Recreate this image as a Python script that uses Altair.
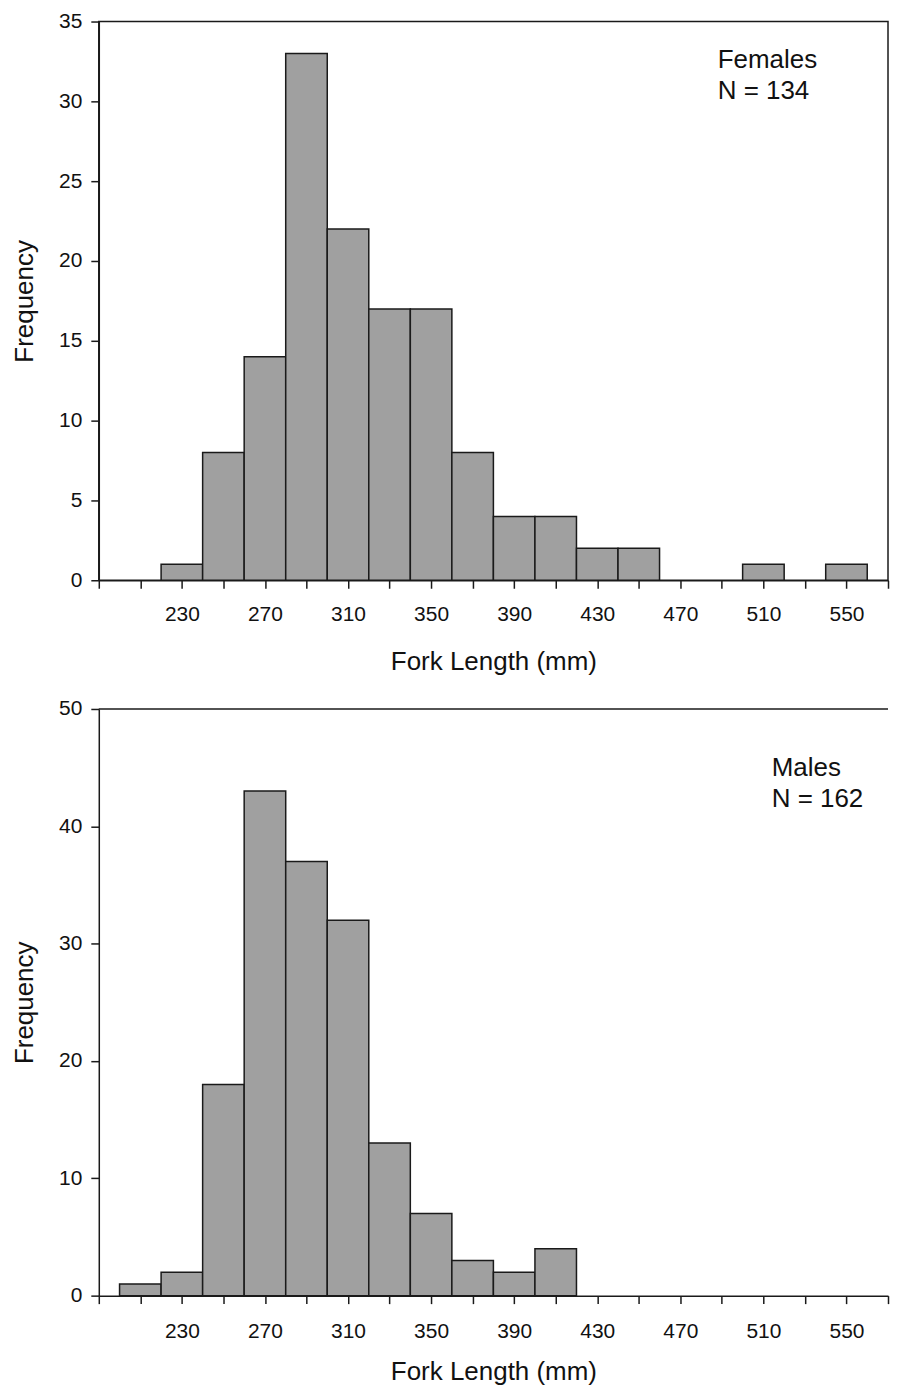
import altair as alt
import pandas as pd

# ---- data ----
bin_width = 20
female_bin_start = [220, 240, 260, 280, 300, 320, 340, 360, 380, 400, 420, 440, 460, 480, 500, 520, 540]
female_counts = [1, 8, 14, 33, 22, 17, 17, 8, 4, 4, 2, 2, 0, 0, 1, 0, 1]
male_bin_start = [200, 220, 240, 260, 280, 300, 320, 340, 360, 380, 400]
male_counts = [1, 2, 18, 43, 37, 32, 13, 7, 3, 2, 4]

x_tick_values = list(range(190, 571, 20))
x_tick_labels = [230, 270, 310, 350, 390, 430, 470, 510, 550]
female_y_ticks = [0, 5, 10, 15, 20, 25, 30, 35]
male_y_ticks = [0, 10, 20, 30, 40, 50]

female_label = "Females\nN = 134"
male_label = "Males\nN = 162"

FONT = "Liberation Sans"
LINE = "#1a1a1a"
PANEL_W = 791
label_expr = "indexof([" + ",".join(str(v) for v in x_tick_labels) + "], datum.value) >= 0 ? datum.label : ''"


def panel(starts, counts, y_ticks, height, label, lx, ly, x_label_pad, x_title_pad, full_frame):
    df = pd.DataFrame({
        "start": starts,
        "end": [s + bin_width for s in starts],
        "count": counts,
    })
    df = df[df["count"] > 0]
    bars = alt.Chart(df).mark_bar(
        color="#a0a0a0", stroke=LINE, strokeWidth=1.5
    ).encode(
        x=alt.X("start:Q",
                scale=alt.Scale(domain=[190, 570], nice=False, zero=False),
                axis=alt.Axis(values=x_tick_values, labelExpr=label_expr,
                              title="Fork Length (mm)", grid=False,
                              labelPadding=x_label_pad, titlePadding=x_title_pad)),
        x2="end:Q",
        y=alt.Y("count:Q",
                scale=alt.Scale(domain=[y_ticks[0], y_ticks[-1]], nice=False),
                axis=alt.Axis(values=y_ticks, title="Frequency", grid=False,
                              labelPadding=9, titlePadding=21)),
        y2=alt.datum(0),
    )
    tdf = pd.DataFrame({"x": [lx], "y": [ly], "t": [label]})
    txt = alt.Chart(tdf).mark_text(
        align="left", baseline="alphabetic", fontSize=26, font=FONT,
        lineBreak="\n", lineHeight=31, color="#111111"
    ).encode(x="x:Q", y="y:Q", text="t:N")
    layers = [bars, txt]
    props = dict(width=PANEL_W, height=height)
    if not full_frame:
        # only the top frame line is visible (the right edge runs off the page)
        top_line = alt.Chart(tdf).mark_rule(color=LINE, strokeWidth=1.5).encode(
            x=alt.value(0), x2=alt.value(PANEL_W), y=alt.value(0)
        )
        layers.append(top_line)
        props["view"] = alt.ViewBackground(stroke="transparent")
    return alt.layer(*layers).properties(**props)


top = panel(female_bin_start, female_counts, female_y_ticks, 560, female_label,
            488, 32.1, 15.5, 23.5, True)
bottom = panel(male_bin_start, male_counts, male_y_ticks, 588, male_label,
               514, 44.3, 17, 17, False)

chart = alt.vconcat(top, bottom, spacing=22).properties(
    padding={"left": 2, "top": 0, "right": 0, "bottom": 0}
).configure_view(
    stroke=LINE, strokeWidth=1.5
).configure_axis(
    labelFont=FONT, labelFontSize=21, labelColor="#111111",
    titleFont=FONT, titleFontSize=26, titleFontWeight="normal", titleColor="#111111",
    domainColor=LINE, domainWidth=1.5,
    tickColor=LINE, tickWidth=1.5, tickSize=8,
)

chart.save("out.html", embed_options={"renderer": "svg", "actions": False})
